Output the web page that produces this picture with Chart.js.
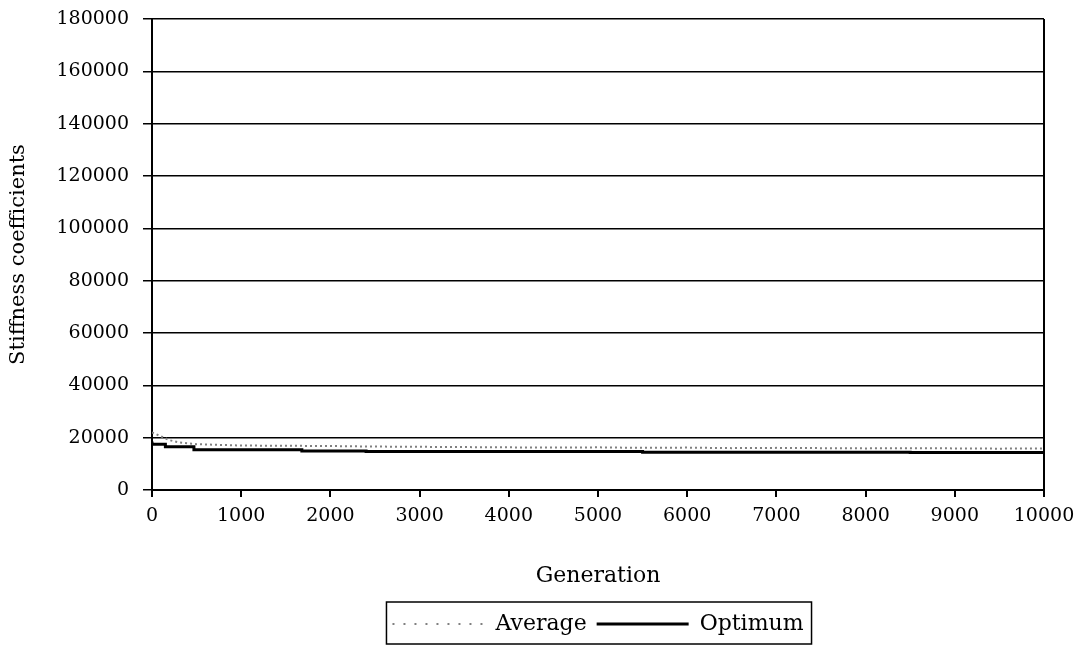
<!DOCTYPE html>
<html>
<head>
<meta charset="utf-8">
<script src="https://cdn.jsdelivr.net/npm/chart.js@4/dist/chart.umd.min.js"></script>
<style>
  html, body { margin: 0; padding: 0; background: #fff; }
  #wrap { width: 1086px; height: 645px; }
</style>
</head>
<body>
<div id="wrap"><canvas id="chart"></canvas></div>
<script>
// Generation positions and values
const avgGen = [0, 100, 200, 300, 500, 700, 1000, 1500, 2000, 2500, 3000, 3500, 4000, 4500, 5000, 5500, 6000, 6500, 7000, 7500, 8000, 8500, 9000, 9500, 10000];
const avgValues = [22000, 20500, 19000, 18200, 17500, 17300, 17000, 16900, 16800, 16600, 16500, 16400, 16300, 16200, 16300, 16100, 16200, 16000, 16100, 16000, 15900, 16000, 15900, 15800, 15900];

const optGen = [0, 150, 470, 1680, 2400, 5500, 8500, 10000];
const optValues = [18500, 17500, 16500, 15400, 14900, 14700, 14400, 14300];

const seriesNames = ['Average', 'Optimum'];
const xTitle = 'Generation';
const yTitle = 'Stiffness coefficients';

const font = 'DejaVu Serif';

function toPoints(xs, ys) {
    return xs.map((x, i) => ({ x: x, y: ys[i] }));
}

// right edge of the plot frame and the box round the legend
const framePlugin = {
    id: 'frame',
    afterDraw(chart) {
        const ctx = chart.ctx;
        const area = chart.chartArea;
        ctx.save();
        ctx.strokeStyle = '#000';
        ctx.lineWidth = 2;
        ctx.beginPath();
        ctx.moveTo(area.right, area.top);
        ctx.lineTo(area.right, area.bottom);
        ctx.stroke();

        const boxes = chart.legend.legendHitBoxes;
        if (boxes && boxes.length) {
            let left = boxes[0].left - 6;
            let last = boxes[boxes.length - 1];
            let right = last.left + last.width + 8;
            let top = boxes[0].top - 11;
            let bottom = boxes[0].top + boxes[0].height + 9;
            ctx.lineWidth = 1.5;
            ctx.strokeRect(left, top, right - left, bottom - top);
        }
        ctx.restore();
    }
};

let ctx = document.getElementById('chart').getContext('2d');

new Chart(ctx, {
    type: 'line',
    data: {
        datasets: [{
            label: seriesNames[0],
            data: toPoints(avgGen, avgValues),
            borderColor: '#808080',
            borderWidth: 2,
            borderDash: [2, 3],
            pointRadius: 0,
            fill: false
        }, {
            label: seriesNames[1],
            data: toPoints(optGen, optValues),
            borderColor: '#000',
            borderWidth: 3,
            stepped: 'after',
            pointRadius: 0,
            fill: false
        }]
    },
    options: {
        responsive: true,
        maintainAspectRatio: false,
        animation: false,
        layout: { padding: { top: 19, right: 42, left: 0, bottom: 0 } },
        plugins: {
            tooltip: { enabled: false },
            legend: {
                position: 'bottom',
                fullSize: false,
                labels: {
                    usePointStyle: true,
                    pointStyle: 'line',
                    pointStyleWidth: 92,
                    color: '#000',
                    padding: 10,
                    font: { family: font, size: 22 },
                    generateLabels(chart) {
                        let items = Chart.defaults.plugins.legend.labels.generateLabels(chart);
                        // sparse dots for the average sample, like the original
                        items[0].lineDash = [2, 9];
                        return items;
                    }
                }
            }
        },
        scales: {
            x: {
                type: 'linear',
                min: 0,
                max: 10000,
                ticks: {
                    stepSize: 1000, color: '#000', padding: 8, maxRotation: 0,
                    font: { family: font, size: 19 },
                    callback: (v) => String(v)
                },
                grid: { drawOnChartArea: false, color: '#000', lineWidth: 2, tickLength: 7 },
                border: { color: '#000', width: 2 },
                title: { display: true, text: xTitle, color: '#000', padding: { top: 6, bottom: 14 }, font: { family: font, size: 22 } },
                afterFit(scale) { scale.height = 113; }
            },
            y: {
                min: 0,
                max: 180000,
                ticks: {
                    stepSize: 20000, color: '#000', padding: 14,
                    font: { family: font, size: 19 },
                    callback: (v) => String(v)
                },
                grid: { color: '#000', lineWidth: 1.5, tickLength: 9 },
                border: { color: '#000', width: 2 },
                title: { display: true, text: yTitle, color: '#000', padding: 6, font: { family: font, size: 21 } },
                afterFit(scale) { scale.width = 152; scale.paddingTop = 0; }
            }
        }
    },
    plugins: [framePlugin]
});
</script>
</body>
</html>
